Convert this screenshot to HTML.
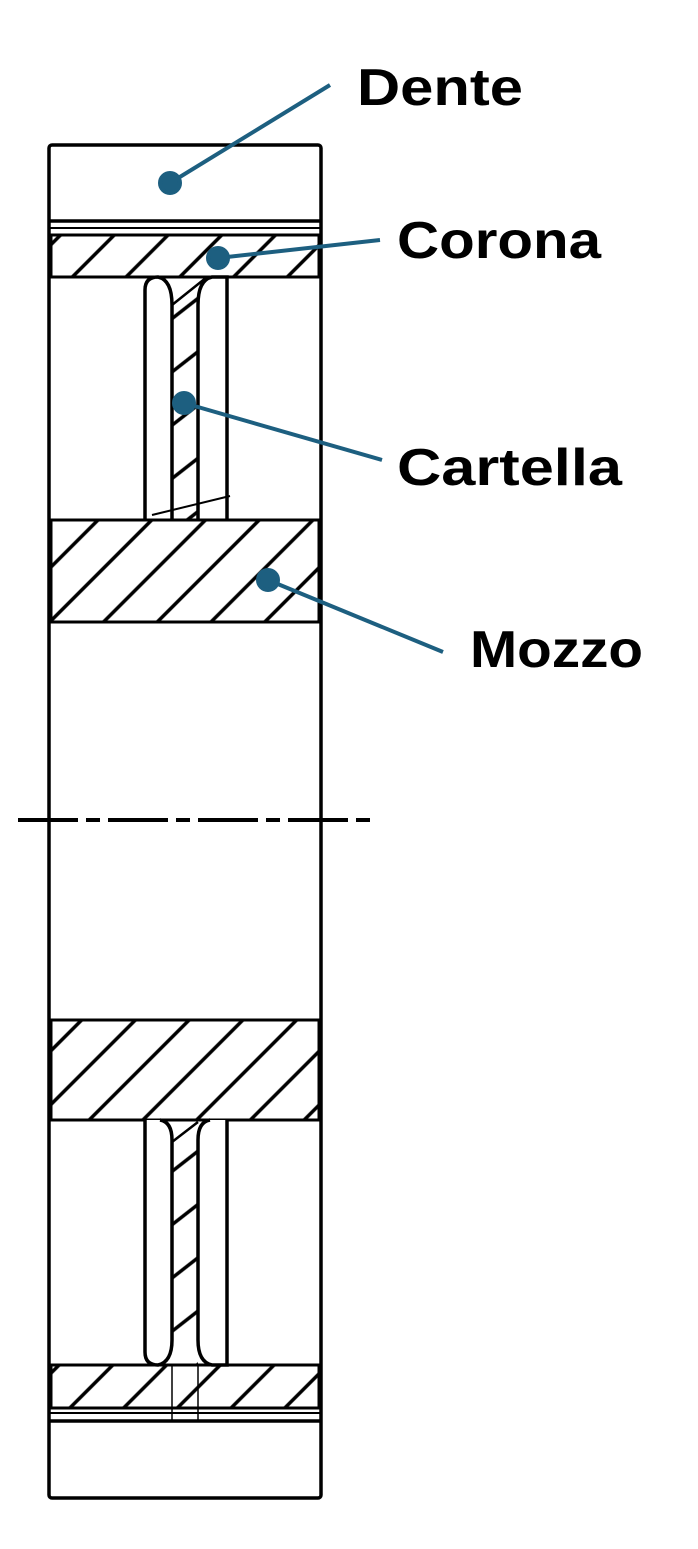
<!DOCTYPE html>
<html><head><style>html,body{margin:0;padding:0;background:#fff}svg{display:block}</style></head>
<body>
<svg width="698" height="1549" viewBox="0 0 698 1549" xmlns="http://www.w3.org/2000/svg">
<defs>
<pattern id="h" patternUnits="userSpaceOnUse" width="38" height="38" patternTransform="rotate(45)">
<line x1="19" y1="0" x2="19" y2="38" stroke="#000" stroke-width="3.5"/>
</pattern>
<pattern id="hw" patternUnits="userSpaceOnUse" width="42" height="42" patternTransform="rotate(52)">
<line x1="21" y1="0" x2="21" y2="42" stroke="#000" stroke-width="3.5"/>
</pattern>
</defs>
<g fill="none" stroke="#000" stroke-width="3.5">
<rect x="49" y="145" width="272" height="1353" rx="3"/>
<line x1="49" y1="221" x2="321" y2="221"/>
<line x1="49" y1="228" x2="321" y2="228" stroke-width="2"/>
<rect x="51" y="235" width="268" height="42" fill="url(#h)" stroke-width="3"/>
<rect x="172" y="290" width="26" height="230" fill="url(#hw)" stroke="none"/>
<path d="M145 520 V290 Q145 277 158 277 Q172 280 172 305 V520" fill="#fff"/>
<path d="M227 520 V277 H212 Q198 280 198 305 V520" fill="#fff"/>
<line x1="172" y1="305" x2="207" y2="277" stroke-width="2.5"/>
<line x1="152" y1="515" x2="230" y2="496" stroke-width="2"/>
<rect x="51" y="520" width="268" height="102" fill="url(#h)" stroke-width="3"/>
<line x1="18" y1="820" x2="370" y2="820" stroke-width="4" stroke-dasharray="60,8,14,8"/>
<rect x="51" y="1020" width="268" height="100" fill="url(#h)" stroke-width="3"/>
<rect x="172" y="1120" width="26" height="245" fill="url(#hw)" stroke="none"/>
<path d="M145 1120 V1352 Q145 1365 158 1365 Q172 1362 172 1340 V1140 Q172 1122 160 1120" fill="#fff"/>
<path d="M227 1120 V1365 H212 Q198 1362 198 1340 V1140 Q198 1122 210 1120" fill="#fff"/>
<line x1="172" y1="1142" x2="198" y2="1122" stroke-width="2.5"/>
<rect x="51" y="1365" width="268" height="43" fill="url(#h)" stroke-width="3"/>
<line x1="49" y1="1413" x2="321" y2="1413" stroke-width="2"/>
<line x1="49" y1="1421" x2="321" y2="1421"/>
<line x1="172" y1="1365" x2="172" y2="1421" stroke-width="1.5"/>
<line x1="198" y1="1365" x2="198" y2="1421" stroke-width="1.5"/>
</g>
<g stroke="#1d5f80" stroke-width="4" fill="#1d5f80">
<line x1="170" y1="183" x2="330" y2="85"/><circle cx="170" cy="183" r="10"/>
<line x1="218" y1="258" x2="380" y2="240"/><circle cx="218" cy="258" r="10"/>
<line x1="184" y1="403" x2="382" y2="460"/><circle cx="184" cy="403" r="10"/>
<line x1="268" y1="580" x2="443" y2="652"/><circle cx="268" cy="580" r="10"/>
</g>
<g font-family="Liberation Sans, sans-serif" font-weight="bold" font-size="52" fill="#000">
<text x="357" y="105" textLength="166" lengthAdjust="spacingAndGlyphs">Dente</text>
<text x="397" y="258" textLength="204" lengthAdjust="spacingAndGlyphs">Corona</text>
<text x="397" y="485" textLength="225" lengthAdjust="spacingAndGlyphs">Cartella</text>
<text x="470" y="667" textLength="173" lengthAdjust="spacingAndGlyphs">Mozzo</text>
</g>
</svg>
</body></html>
